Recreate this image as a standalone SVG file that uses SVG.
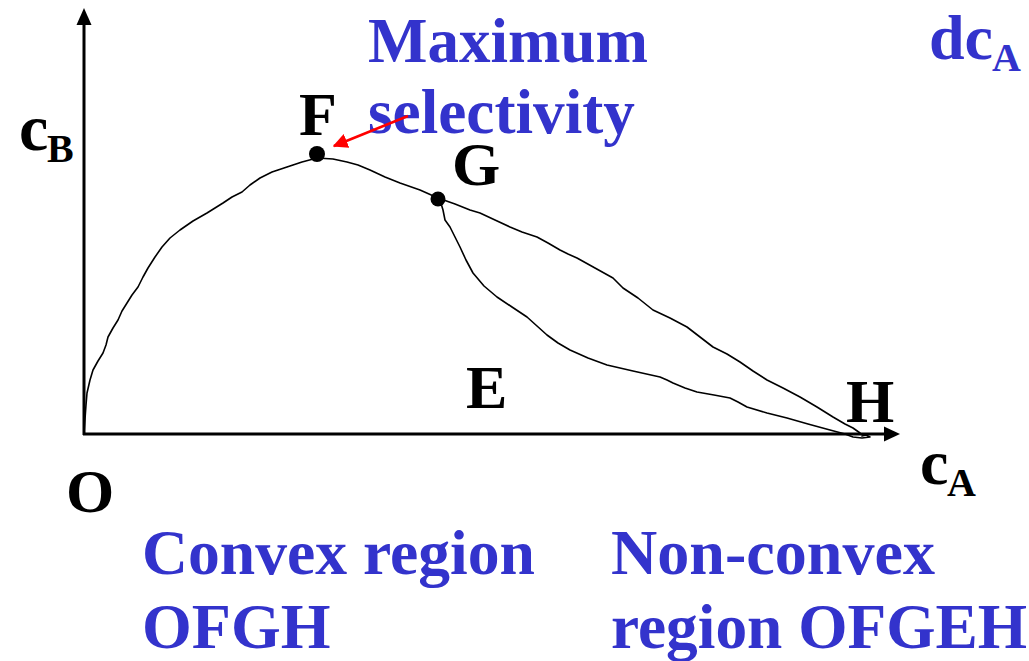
<svg xmlns="http://www.w3.org/2000/svg" width="1029" height="661" viewBox="0 0 1029 661">
<style>
.lbl{font-family:"Liberation Serif","Times New Roman",serif;font-weight:bold;fill:#000}
.blue{font-family:"Liberation Serif","Times New Roman",serif;font-weight:bold;fill:#3333cc;font-size:64px}
.curve{fill:none;stroke:#000;stroke-width:1.6;stroke-linejoin:round;stroke-linecap:round}
.axis{fill:none;stroke:#000;stroke-width:3}
</style>
<defs>
<marker id="redhead" viewBox="0 0 10 10" refX="9" refY="5" markerWidth="6" markerHeight="6" markerUnits="strokeWidth" orient="auto">
<path d="M0,0 L10,5 L0,10 z" fill="#ff0000"/>
</marker>
</defs>
<rect width="1029" height="661" fill="#fff"/>
<g id="axes">
<line class="axis" x1="84" y1="435" x2="84" y2="22"/>
<polygon points="84,8 76.5,25 91.5,25" fill="#000"/>
<line class="axis" x1="83" y1="434" x2="886" y2="434"/>
<polygon points="900,434 884,426.5 884,441.5" fill="#000"/>
</g>
<g id="F">
<circle cx="317" cy="154" r="8" fill="#000"/>
<text class="lbl" x="299" y="135" font-size="62">F</text>
</g>
<g id="G">
<circle cx="438" cy="199" r="7.5" fill="#000"/>
<text class="lbl" x="452" y="185" font-size="62">G</text>
</g>
<g id="E">
<text class="lbl" x="466" y="408" font-size="62">E</text>
</g>
<g id="H">
<text class="lbl" x="846" y="422" font-size="62">H</text>
</g>
<g id="O">
<text class="lbl" x="66" y="512" font-size="62">O</text>
</g>
<g id="cB">
<text class="lbl" x="19" y="150" font-size="66">c<tspan x="47" y="162" font-size="40">B</tspan></text>
</g>
<g id="cA">
<text class="lbl" x="920" y="484" font-size="64">c<tspan x="947" y="496" font-size="40">A</tspan></text>
</g>
<g id="max-sel">
<text class="blue" x="368" y="62" textLength="280" lengthAdjust="spacingAndGlyphs">Maximum</text>
<text class="blue" x="368" y="133" textLength="267" lengthAdjust="spacingAndGlyphs">selectivity</text>
</g>
<g id="dcA">
<text class="blue" x="929" y="59">dc<tspan x="992" y="71" font-size="40">A</tspan></text>
</g>
<g id="convex">
<text class="blue" x="142" y="574" textLength="393" lengthAdjust="spacingAndGlyphs">Convex region</text>
<text class="blue" x="142" y="648">OFGH</text>
</g>
<g id="nonconvex">
<text class="blue" x="611" y="574" textLength="324" lengthAdjust="spacingAndGlyphs">Non-convex</text>
<text class="blue" x="611" y="648" textLength="416" lengthAdjust="spacingAndGlyphs">region OFGEH</text>
</g>
<g id="connectors">
<polyline class="curve" points="84,433 86,405 87,393 90,380 93,370 98,361 103,353 106,345 108,337 113,328 118,320 122,311 127,303 132,295 138,287 143,277 148,268 155,257 162,247 170,238 180,230 193,221 207,213 215,208 223,203 232,197 242,192 250,185 260,178 272,172 287,167 302,162 317,158 333,159 347,162 358,165 370,170 385,177 400,183 420,190 438,198 455,204 470,210 480,213 495,220 510,227 522,232 537,237 548,243 560,250 568,254 577,258 595,268 613,278 623,288 638,298 653,310 670,318 687,327 700,337 713,347 727,354 740,362 753,371 767,380 783,388 800,397 817,407 833,417 845,424 853,428 860,433"/>
<polyline class="curve" points="440,200 443,210 445,220 450,227 455,237 460,247 466,260 473,273 484,286 497,297 512,307 527,317 537,326 547,335 558,343 570,350 588,358 607,365 633,371 660,377 667,380 673,383 685,388 697,392 714,395 730,398 738,402 747,407 767,413 787,418 808,424 830,430 845,434 853,437 862,438 870,437 866,435 862,436"/>
<line x1="408" y1="116" x2="334" y2="146" stroke="#ff0000" stroke-width="2.5" marker-end="url(#redhead)"/>
</g>
</svg>
